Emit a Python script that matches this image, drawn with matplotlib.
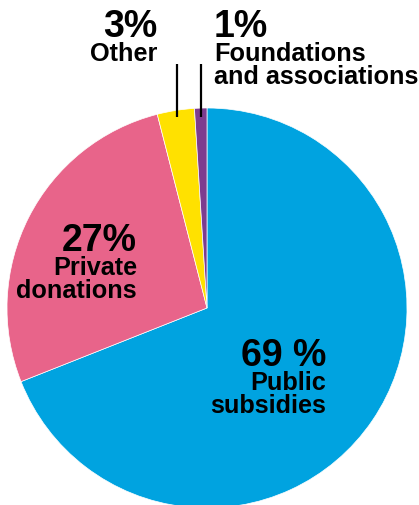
import matplotlib.pyplot as plt

labels = [["Public", "subsidies"], ["Private", "donations"], ["Other"],
          ["Foundations", "and associations"]]
pcts = ["69 %", "27%", "3%", "1%"]
values = [69, 27, 3, 1]
colors = ["#00A3E0", "#E8648A", "#FFE100", "#7D3C8F"]

W, H = 419, 505
fig = plt.figure(figsize=(W / 100, H / 100), dpi=100)
ax = fig.add_axes([0, 0, 1, 1])

cx, cy, r = 207, H - 308, 200
ax.pie(values, colors=colors, startangle=90, counterclock=False,
       center=(cx, cy), radius=r, frame=True,
       wedgeprops=dict(edgecolor="white", linewidth=0.5))
ax.set_xlim(0, W)
ax.set_ylim(0, H)
ax.set_aspect("equal")
ax.axis("off")

plt.rcParams["font.family"] = ["Liberation Sans", "DejaVu Sans"]
big = dict(fontsize=27, fontweight="bold", va="baseline")
small = dict(fontsize=18.2, fontweight="bold", va="baseline")


def y(p):
    return H - p


def label(x, base, i, ha):
    ax.text(x, y(base), pcts[i], ha=ha, **big)
    for k, line in enumerate(labels[i]):
        ax.text(x, y(base + 24 + 23 * k), line, ha=ha, **small)


label(326, 366, 0, "right")
label(137, 251, 1, "right")
label(157, 37, 2, "right")
label(214, 37, 3, "left")

# leader lines
ax.plot([177, 177], [y(64), y(117)], color="black", lw=1.6, solid_capstyle="butt")
ax.plot([201, 201], [y(64), y(117)], color="black", lw=1.6, solid_capstyle="butt")

fig.savefig("out.png", dpi=100)
